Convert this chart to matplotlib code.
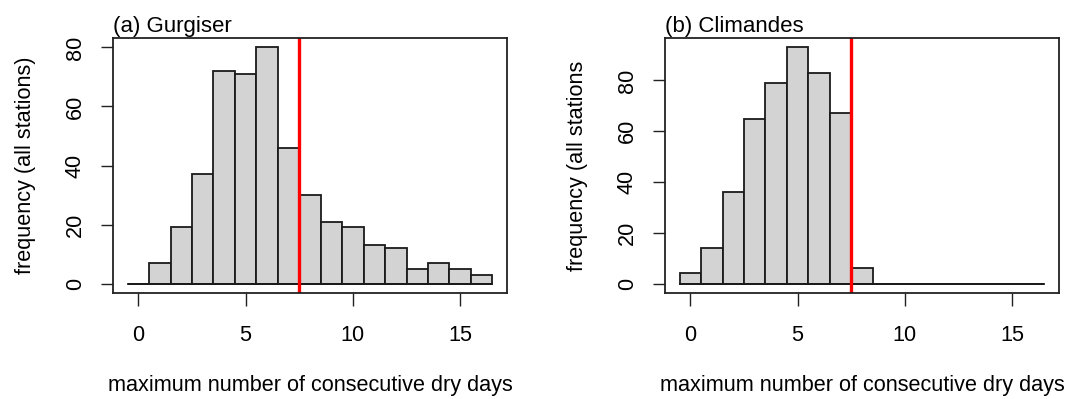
import matplotlib
matplotlib.use("Agg")
import matplotlib.pyplot as plt
import numpy as np

plt.rcParams['font.family'] = ['Liberation Sans', 'DejaVu Sans']

days = list(range(0, 17))
gurgiser = [0, 7, 19, 37, 72, 71, 80, 46, 30, 21, 19, 13, 12, 5, 7, 5, 3]
climandes = [4, 14, 36, 65, 79, 93, 83, 67, 6, 0, 0, 0, 0, 0, 0, 0, 0]
threshold = 7.5
xticks = [0, 5, 10, 15]
titles = ["(a) Gurgiser", "(b) Climandes"]
ylabels = ["frequency (all stations)", "frequency (all stations"]
xlabel = "maximum number of consecutive dry days"

W, H = 1071, 399
fig = plt.figure(figsize=(W / 100, H / 100), dpi=100)

panels = [
    dict(data=gurgiser, box=(113, 38, 507, 293), yticks=[0, 20, 40, 60, 80]),
    dict(data=climandes, box=(665, 38, 1059, 293), yticks=[0, 20, 40, 60, 80]),
]

FS = 15.6
for i, p in enumerate(panels):
    x0, y0, x1, y1 = p['box']
    ax = fig.add_axes([x0 / W, 1 - y1 / H, (x1 - x0) / W, (y1 - y0) / H])
    data = np.array(p['data'])
    edges = np.arange(-0.5, 17.0, 1.0)
    ax.hist(np.array(days), bins=edges, weights=data, color='#D3D3D3',
            edgecolor='#1a1a1a', linewidth=1.3, histtype='bar')
    # baseline for zero bars (as in R)
    ax.plot([edges[0], edges[-1]], [0, 0], color='#1a1a1a', lw=1.3)
    ax.axvline(threshold, color='#FF0000', lw=2.4)
    lo, hi = edges[0], edges[-1]
    pad = (hi - lo) * 0.04
    ax.set_xlim(lo - pad, hi + pad)
    ymax = data.max()
    ax.set_ylim(-ymax * 0.04, ymax * 1.04)
    ax.set_xticks(xticks)
    ax.set_yticks(p['yticks'])
    ax.tick_params(direction='out', length=9, width=1.0, colors='#222222',
                   labelsize=FS, labelcolor='black')
    ax.tick_params(axis='x', pad=14)
    ax.tick_params(axis='y', pad=10.5)
    for lab in ax.get_yticklabels():
        lab.set_rotation(90)
        lab.set_va('center')
    for s in ax.spines.values():
        s.set_linewidth(1.3)
        s.set_color('#222222')
    ax.set_xlabel(xlabel, fontsize=FS, labelpad=21)
    ax.set_ylabel(ylabels[i], fontsize=FS, labelpad=21)
    ax.set_title(titles[i], fontsize=16, loc='left', pad=4)

fig.savefig("out.png", dpi=100)
